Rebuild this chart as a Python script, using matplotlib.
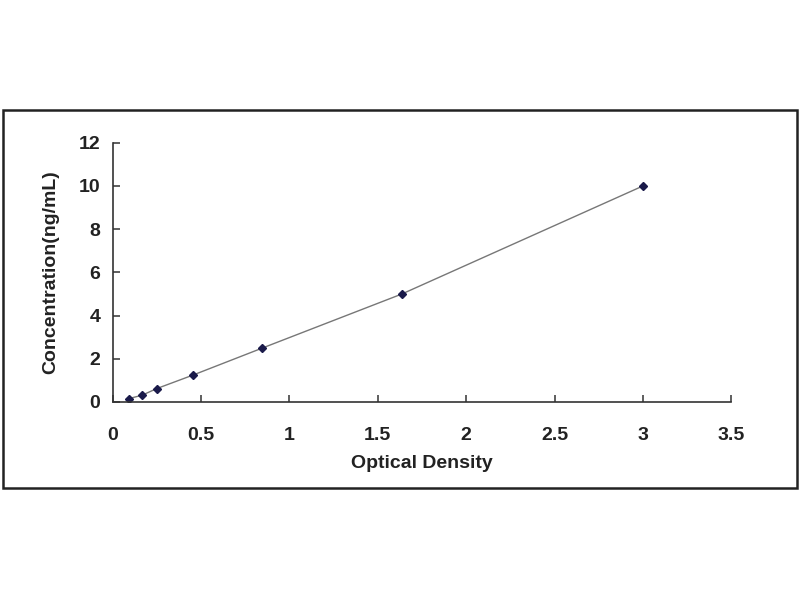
import matplotlib.pyplot as plt
from matplotlib.patches import Rectangle

# Dados da curva padrao
densidade_optica = [0.09, 0.165, 0.25, 0.455, 0.847, 1.636, 3.0]
concentracao = [0.156, 0.312, 0.625, 1.25, 2.5, 5, 10]

plt.rcParams['font.family'] = ['Liberation Sans', 'DejaVu Sans']
plt.rcParams['font.weight'] = 'bold'

fig = plt.figure(figsize=(8, 6), dpi=100)
fig.patch.set_facecolor('white')

# Moldura externa
moldura = Rectangle((0.004, 0.187), 0.992, 0.63, transform=fig.transFigure,
                    fill=False, edgecolor='#222222', linewidth=1.8)
fig.patches.append(moldura)

ax = fig.add_axes([0.141, 0.33, 0.773, 0.432])
ax.plot(densidade_optica, concentracao, color='#777777', linewidth=1.0, zorder=1)
ax.plot(densidade_optica, concentracao, linestyle='none', marker='D', markersize=4,
        color='#1a1a4a', zorder=2)

ax.set_xlim(0, 3.5)
ax.set_ylim(0, 12)
ax.set_xticks([0, 0.5, 1, 1.5, 2, 2.5, 3, 3.5])
ax.set_xticklabels(['0', '0.5', '1', '1.5', '2', '2.5', '3', '3.5'])
ax.set_yticks([0, 2, 4, 6, 8, 10, 12])

for lado in ['top', 'right']:
    ax.spines[lado].set_visible(False)
for lado in ['left', 'bottom']:
    ax.spines[lado].set_color('#333333')
    ax.spines[lado].set_linewidth(1.2)

ax.tick_params(direction='in', length=5, width=1.1, colors='#333333',
               labelsize=14, labelcolor='#222222')
ax.tick_params(axis='x', pad=18)
ax.tick_params(axis='y', pad=9)
ax.set_xlabel('Optical Density', fontsize=14, fontweight='bold', color='#222222', labelpad=8)
ax.set_ylabel('Concentration(ng/mL)', fontsize=14, fontweight='bold', color='#222222', labelpad=14)

fig.savefig('out.png', dpi=100, facecolor='white')
